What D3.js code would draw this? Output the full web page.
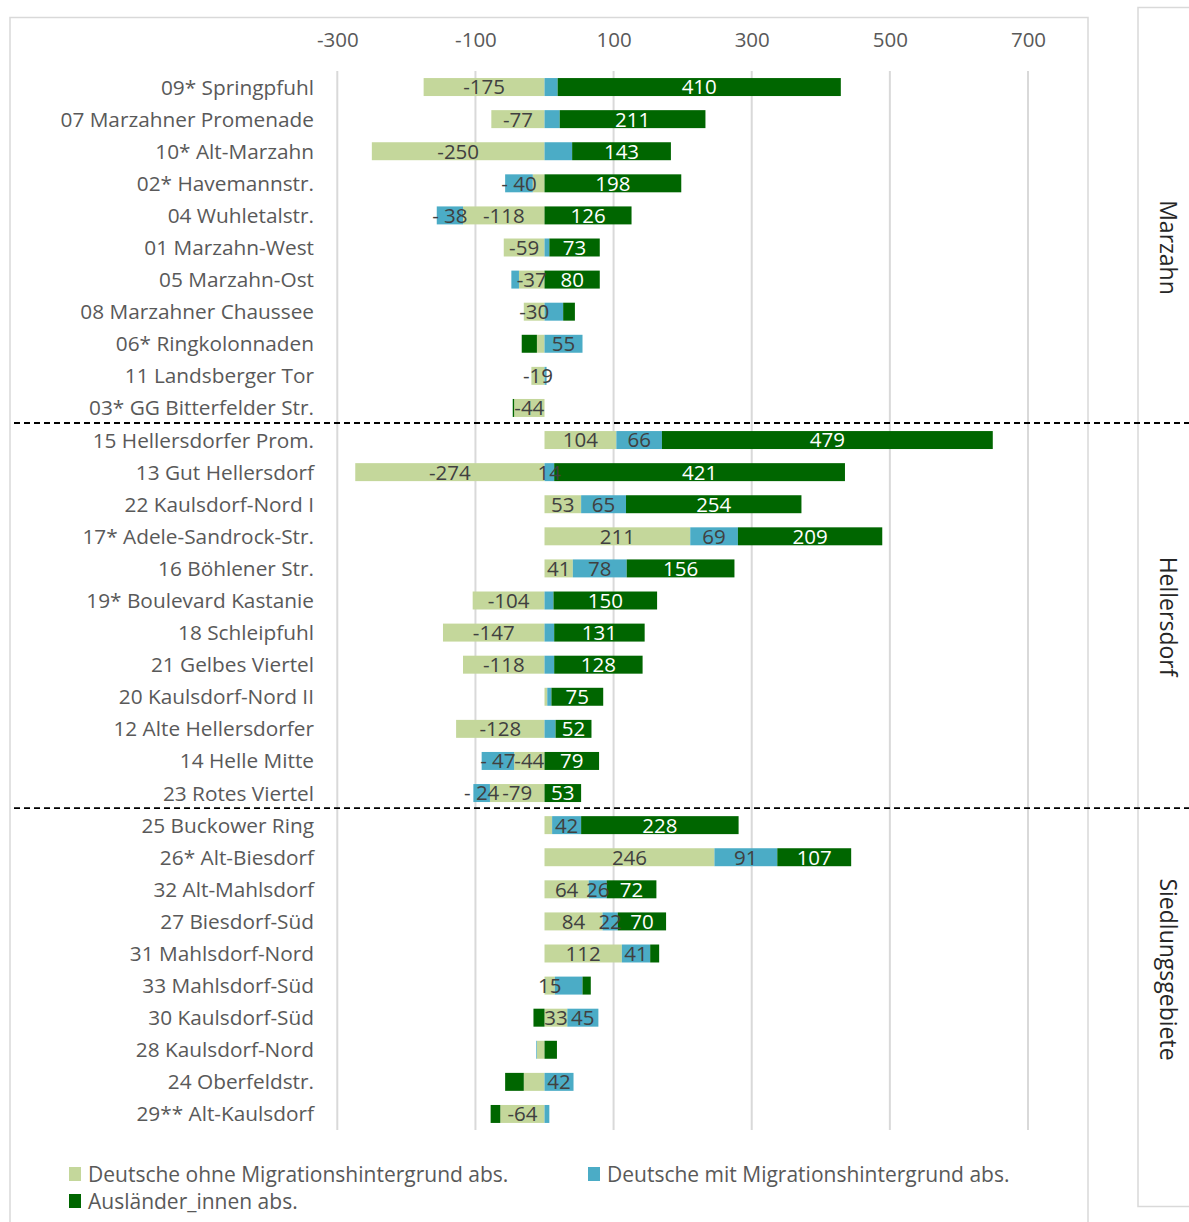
<!DOCTYPE html>
<html>
<head>
<meta charset="utf-8">
<script src="https://cdn.jsdelivr.net/npm/d3@7"></script>
<style>
  html, body { margin: 0; padding: 0; background: #fff; }
  svg { display: block; font-family: "Open Sans", sans-serif; }
</style>
</head>
<body>
<svg id="chart" width="1189" height="1222"></svg>
<script>
// ---------- DATA ----------
const categories = [
  "09* Springpfuhl", "07 Marzahner Promenade", "10* Alt-Marzahn", "02* Havemannstr.",
  "04 Wuhletalstr.", "01 Marzahn-West", "05 Marzahn-Ost", "08 Marzahner Chaussee",
  "06* Ringkolonnaden", "11 Landsberger Tor", "03* GG Bitterfelder Str.",
  "15 Hellersdorfer Prom.", "13 Gut Hellersdorf", "22 Kaulsdorf-Nord I", "17* Adele-Sandrock-Str.",
  "16 Böhlener Str.", "19* Boulevard Kastanie", "18 Schleipfuhl", "21 Gelbes Viertel",
  "20 Kaulsdorf-Nord II", "12 Alte Hellersdorfer", "14 Helle Mitte", "23 Rotes Viertel",
  "25 Buckower Ring", "26* Alt-Biesdorf", "32 Alt-Mahlsdorf", "27 Biesdorf-Süd",
  "31 Mahlsdorf-Nord", "33 Mahlsdorf-Süd", "30 Kaulsdorf-Süd", "28 Kaulsdorf-Nord",
  "24 Oberfeldstr.", "29** Alt-Kaulsdorf"
];
const groupNames = ["Marzahn", "Hellersdorf", "Siedlungsgebiete"];
const groupSizes = [11, 12, 10];

const seriesNames = [
  "Deutsche ohne Migrationshintergrund abs.",
  "Deutsche mit Migrationshintergrund abs.",
  "Ausländer_innen abs."
];
const ohne = [-175, -77, -250, -17, -118, -59, -37, -30, -11, -19, -44,
              104, -274, 53, 211, 41, -104, -147, -118, 4, -128, -44, -79,
              11, 246, 64, 84, 112, 15, 33, -11, -30, -64];
const mit  = [19, 22, 40, -40, -38, 7, -11, 27, 55, 3, 0,
              66, 14, 65, 69, 78, 13, 14, 14, 6, 16, -47, -24,
              42, 91, 26, 22, 41, 40, 45, -1, 42, 7];
const ausl = [410, 211, 143, 198, 126, 73, 80, 17, -22, 0, -2,
              479, 421, 254, 209, 156, 150, 131, 128, 75, 52, 79, 53,
              228, 107, 72, 70, 13, 12, -16, 18, -27, -14];

// which data labels are displayed in the original (1 = shown)
const labelOhne = [1,1,1,0,1,1,1,1,0,1,1, 1,1,1,1,1,1,1,1,0,1,1,1, 0,1,1,1,1,1,1,0,0,1];
const labelMit  = [0,0,0,1,1,0,0,0,1,0,0, 1,1,1,1,1,0,0,0,0,0,1,1, 1,1,1,1,1,0,1,0,1,0];
const labelAusl = [1,1,1,1,1,1,1,0,0,0,0, 1,1,1,1,1,1,1,1,1,1,1,1, 1,1,1,1,0,0,0,0,0,0];

const xTicks = [-300, -100, 100, 300, 500, 700];
const colors = ["#c4d79b", "#4bacc6", "#006600"];

// ---------- BUILD ----------
const keys = ["ohne", "mit", "ausl"];
const rows = categories.map((c, i) => ({ cat: c, ohne: ohne[i], mit: mit[i], ausl: ausl[i],
  show: { ohne: labelOhne[i], mit: labelMit[i], ausl: labelAusl[i] } }));

const svg = d3.select("#chart");

const x = d3.scaleLinear().domain([-300, 700]).range([337.3, 1028]);
const y = d3.scaleBand().domain(categories).range([71, 1130]).paddingInner(0.44).paddingOuter(0.22);

// frames
svg.append("rect").attr("x", 10).attr("y", 17.5).attr("width", 1078).attr("height", 1240)
  .attr("fill", "none").attr("stroke", "#d9d9d9").attr("stroke-width", 1.5);
svg.append("rect").attr("x", 1138).attr("y", 7.5).attr("width", 80).attr("height", 1199)
  .attr("fill", "none").attr("stroke", "#d9d9d9").attr("stroke-width", 1.5);

// gridlines
svg.append("g").selectAll("line").data(xTicks).join("line")
  .attr("x1", d => x(d)).attr("x2", d => x(d))
  .attr("y1", 71).attr("y2", 1130)
  .attr("stroke", "#d9d9d9").attr("stroke-width", 2);

// top axis labels
const axis = d3.axisTop(x).tickValues(xTicks).tickSize(0).tickPadding(0).tickFormat(d => String(d));
const ax = svg.append("g").attr("transform", "translate(0,47)").call(axis);
ax.select(".domain").remove();
ax.selectAll("text").attr("font-size", 20.5).attr("fill", "#595959")
  .attr("font-family", "Open Sans, sans-serif");

// stack
const stack = d3.stack().keys(keys).offset(d3.stackOffsetDiverging);
const stacked = stack(rows);

const layers = svg.append("g").selectAll("g").data(stacked).join("g")
  .attr("fill", (d, i) => colors[i]);
layers.selectAll("rect").data(d => d.map(s => ({ s, key: d.key }))).join("rect")
  .attr("x", d => x(Math.min(d.s[0], d.s[1])))
  .attr("width", d => Math.abs(x(d.s[1]) - x(d.s[0])))
  .attr("y", d => y(d.s.data.cat))
  .attr("height", y.bandwidth());

// data labels
function fmt(v, key) {
  if (v < 0 && key === "mit") return "- " + Math.abs(v);
  return String(v);
}
const lab = svg.append("g");
stacked.forEach((layer, li) => {
  layer.forEach(s => {
    const d = s.data;
    if (!d.show[layer.key]) return;
    const v = d[layer.key];
    lab.append("text")
      .attr("x", x((s[0] + s[1]) / 2))
      .attr("y", y(d.cat) + y.bandwidth() / 2)
      .attr("dy", "0.36em")
      .attr("text-anchor", "middle")
      .attr("font-size", 20.5)
      .attr("fill", li === 2 ? "#ffffff" : "#404040")
      .text(fmt(v, layer.key));
  });
});

// category labels
svg.append("g").selectAll("text").data(categories).join("text")
  .attr("x", 314).attr("y", d => y(d) + y.bandwidth() / 2).attr("dy", "0.36em")
  .attr("text-anchor", "end").attr("font-size", 20.8).attr("fill", "#595959")
  .text(d => d);

// group separators and group labels
let start = 0;
groupSizes.forEach((n, gi) => {
  const first = categories[start], last = categories[start + n - 1];
  const mid = (y(first) + y(last) + y.bandwidth()) / 2;
  svg.append("text")
    .attr("transform", `translate(1160,${mid}) rotate(90)`)
    .attr("text-anchor", "middle").attr("font-size", 23).attr("fill", "#262626")
    .text(groupNames[gi]);
  if (gi > 0) {
    const yy = y(first) - y.step() * y.paddingInner() / 2 - 1;
    svg.append("line").attr("x1", 14).attr("x2", 1189).attr("y1", yy).attr("y2", yy)
      .attr("stroke", "#000").attr("stroke-width", 1.8).attr("stroke-dasharray", "6,4");
  }
  start += n;
});

// legend
const legendPos = [[69, 1174], [588, 1174], [69, 1201]];
const lg = svg.append("g").selectAll("g").data(seriesNames).join("g")
  .attr("transform", (d, i) => `translate(${legendPos[i][0]},${legendPos[i][1]})`);
lg.append("rect").attr("x", 0).attr("y", -7).attr("width", 12).attr("height", 14)
  .attr("fill", (d, i) => colors[i]);
lg.append("text").attr("x", 19).attr("dy", "0.36em").attr("font-size", 21)
  .attr("fill", "#595959").text(d => d);
</script>
</body>
</html>
